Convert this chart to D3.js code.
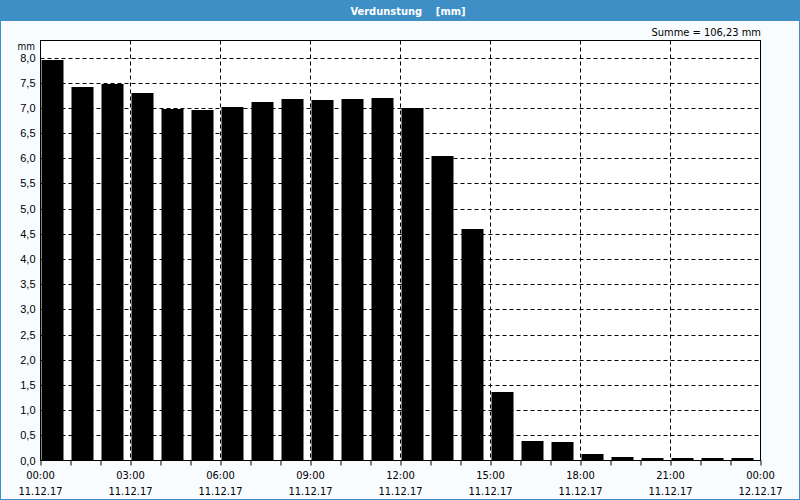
<!DOCTYPE html>
<html><head><meta charset="utf-8">
<script src="https://cdn.jsdelivr.net/npm/d3@7"></script>
<style>
html,body{margin:0;padding:0;background:#fff;}
svg{display:block;font-family:Tahoma,"DejaVu Sans Condensed","DejaVu Sans",sans-serif;}
</style></head><body>
<svg id="c" width="800" height="500"></svg>
<script>
const title = "Verdunstung    [mm]";
const sumLabel = "Summe = 106,23 mm";
const unitLabel = "mm";
const hours = d3.range(24);
const values = [7.96,7.41,7.47,7.29,6.97,6.95,7.01,7.11,7.17,7.15,7.17,7.19,6.99,6.05,4.59,1.36,0.39,0.37,0.13,0.07,0.05,0.05,0.05,0.05];
const yTicks = [0,0.5,1,1.5,2,2.5,3,3.5,4,4.5,5,5.5,6,6.5,7,7.5,8];
const xTickHours = [0,3,6,9,12,15,18,21,24];
const xTimeLabels = ["00:00","03:00","06:00","09:00","12:00","15:00","18:00","21:00","00:00"];
const xDateLabels = ["11.12.17","11.12.17","11.12.17","11.12.17","11.12.17","11.12.17","11.12.17","11.12.17","12.12.17"];

const svg = d3.select("#c");
const W = 800, H = 500;
const blue = "#3d8fc6";
svg.append("rect").attr("x",0).attr("y",0).attr("width",W).attr("height",H).attr("fill","#f9fcff");
svg.append("rect").attr("x",0.5).attr("y",0.5).attr("width",W-1).attr("height",H-1).attr("fill","none").attr("stroke",blue);
svg.append("rect").attr("x",0).attr("y",0).attr("width",W).attr("height",21).attr("fill",blue);
svg.append("text").attr("x",W/2+8).attr("y",14.5).attr("text-anchor","middle").attr("fill","#fff")
  .attr("font-size",11).attr("font-weight","bold").attr("xml:space","preserve").text(title);

const L = 40.5, R = 760.5, T = 40.5, B = 460.5;
const x = d3.scaleLinear().domain([0,24]).range([L,R]);
const y = d3.scaleLinear().domain([0,8]).range([B,57.5]);

svg.append("rect").attr("x",L).attr("y",T).attr("width",R-L).attr("height",B-T).attr("fill","#ffffff");

// horizontal grid
svg.append("g").selectAll("line").data(yTicks.filter(d=>d>0)).join("line")
  .attr("x1",L).attr("x2",R).attr("y1",d=>Math.round(y(d))+0.5).attr("y2",d=>Math.round(y(d))+0.5)
  .attr("stroke","#000").attr("stroke-dasharray","4,3");
// vertical grid
svg.append("g").selectAll("line").data(xTickHours.filter(d=>d>0&&d<24)).join("line")
  .attr("x1",d=>x(d)).attr("x2",d=>x(d)).attr("y1",T).attr("y2",B)
  .attr("stroke","#000").attr("stroke-dasharray","4,3");

// bars
svg.append("g").selectAll("rect").data(hours).join("rect")
  .attr("x",h=>x(h)+1).attr("width",22)
  .attr("y",(h,i)=>Math.round(y(values[i])))
  .attr("height",(h,i)=>B-Math.round(y(values[i])))
  .attr("fill","#000");

// frame
svg.append("rect").attr("x",L).attr("y",T).attr("width",R-L).attr("height",B-T).attr("fill","none").attr("stroke","#000");

// y axis
const yAxis = d3.axisLeft(y).tickValues(yTicks).tickSize(0).tickPadding(5)
  .tickFormat(d=>d3.format(".1f")(d).replace(".",","));
const gy = svg.append("g").attr("transform",`translate(${L},0)`).call(yAxis);
gy.select(".domain").remove();
gy.selectAll("text").attr("font-size",11).attr("fill","#000").attr("font-family",null);

// x axis hourly ticks
const xAxis = d3.axisBottom(x).tickValues(d3.range(25)).tickSize(5).tickFormat("");
const gx = svg.append("g").attr("transform",`translate(0,${B})`).call(xAxis);
gx.select(".domain").remove();
gx.selectAll("line").attr("stroke","#000");

const lab = svg.append("g").attr("font-size",11).attr("fill","#000");
lab.selectAll("text.t").data(xTickHours).join("text").attr("class","t")
  .attr("x",d=>x(d)).attr("y",479).attr("text-anchor","middle").text((d,i)=>xTimeLabels[i]);
lab.selectAll("text.d").data(xTickHours).join("text").attr("class","d")
  .attr("x",d=>x(d)).attr("y",495).attr("text-anchor","middle").text((d,i)=>xDateLabels[i]);

svg.append("text").attr("x",35).attr("y",50).attr("text-anchor","end").attr("font-size",10).text(unitLabel);
svg.append("text").attr("x",761).attr("y",36).attr("text-anchor","end").attr("font-size",11).text(sumLabel);
</script>
</body></html>
